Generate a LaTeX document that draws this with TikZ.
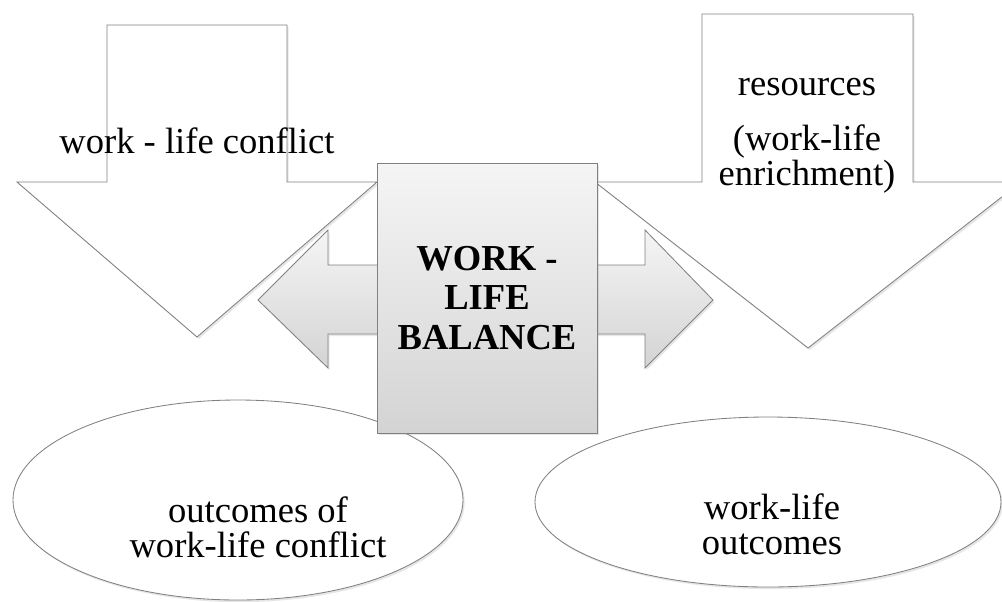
\documentclass[tikz,border=0pt]{standalone}
\usepackage{fontspec}
\setmainfont{Liberation Serif}
\usetikzlibrary{shadows}
\tikzset{font=\fontsize{26}{25}\selectfont}
\tikzset{plainshape/.style={draw=black!50, line width=0.6pt, fill=white,
    drop shadow={opacity=0.2, shadow xshift=1.2pt, shadow yshift=-1.5pt}}}
\tikzset{greyshape/.style={plainshape, top color=black!4, bottom color=black!17}}
\tikzset{txt/.style={align=center, inner sep=0pt}}

\begin{document}
\begin{tikzpicture}[x=0.025cm, y=-0.025cm]
\useasboundingbox (0,0) rectangle (1002,601);
% the two big down arrows
\draw[plainshape] (107,25) -- (287,25) -- (287,182) -- (377,182) -- (197,337)
  -- (17,182) -- (107,182) -- cycle;
\draw[plainshape] (702,14) -- (913,14) -- (913,182) -- (1021,182) -- (808,348)
  -- (595,182) -- (702,182) -- cycle;
% outcomes
\draw[plainshape] (238,500) ellipse [x radius=225, y radius=100];
\draw[plainshape] (768,502) ellipse [x radius=233, y radius=85];
% balance in the middle
\draw[greyshape] (258,300) -- (328,230) -- (328,265) -- (645,265) -- (645,230)
  -- (713,300) -- (645,368) -- (645,334) -- (328,334) -- (328,368) -- cycle;
\draw[greyshape] (377,163) rectangle (597,433);

\node[txt, anchor=base] (conflict) at (197,153) {work - life conflict};
\node[txt] (resources) at (807,136) {resources\\[14pt](work-life\\enrichment)};
\node[txt, font=\fontsize{26}{28}\selectfont\bfseries] (balance) at (487,298) {WORK -\\LIFE\\BALANCE};
\node[txt] (outconflict) at (258,527) {outcomes of\\work-life conflict};
\node[txt] (outcomes) at (772,524) {work-life\\outcomes};

\end{tikzpicture}
\end{document}
